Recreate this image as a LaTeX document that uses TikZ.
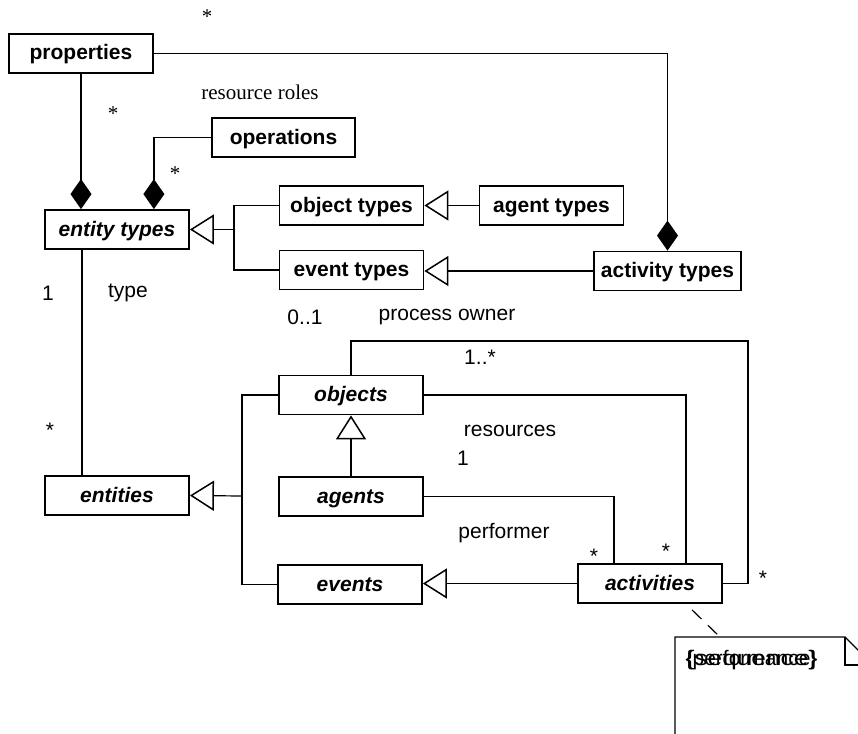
\documentclass[tikz,border=0pt]{standalone}
\usepackage{fontspec}
\setmainfont{Liberation Serif}
\setsansfont{Liberation Sans}
\usetikzlibrary{arrows.meta}
\begin{document}
\begin{tikzpicture}[x=1pt,y=-1pt,line width=1.2pt,
  cls/.style={draw,line width=1.8pt,minimum width=144pt,minimum height=39pt,inner sep=0pt,text height=15pt,text depth=2pt,font=\fontsize{21}{25}\selectfont\sffamily\bfseries},
  abs/.style={cls,font=\fontsize{21}{25}\selectfont\sffamily\bfseries\itshape},
  lbl/.style={inner sep=0pt,font=\fontsize{21}{25}\selectfont\sffamily},
  rlbl/.style={inner sep=0pt,font=\fontsize{21}{25}\selectfont\rmfamily},
  gen/.style={-{Triangle[open,width=30pt,length=24pt,line width=1.5pt]}},
  comp/.style={-{Diamond[width=21pt,length=30pt]}}]
\clip (0,0) rectangle (858,733);
\fill[white] (0,0) rectangle (858,733);
% type level
\node[cls] (prop) at (81,53.5) {properties};
\node[cls,minimum width=143pt] (ops) at (283.5,137.5) {operations};
\node[abs] (et) at (117,229.5) {entity types};
\node[cls] (ot) at (351.5,205.5) {object types};
\node[cls] (evt) at (351.5,270) {event types};
\node[cls] (agt) at (551.5,205.5) {agent types};
\node[cls,minimum width=147pt] (act) at (667.5,271) {activity types};
% instance level
\node[abs] (ent) at (117,495.5) {entities};
\node[abs] (obj) at (351,395) {objects};
\node[abs] (ag) at (351,496.5) {agents};
\node[abs] (ev) at (350,584.5) {events};
\node[abs] (acts) at (650,583.5) {activities};
\coordinate (j1) at (234,229.5);
\coordinate (j2) at (242,496);
\coordinate (po) at (748,341);
\coordinate (nt) at (720,637);
% composition
\draw[comp] (prop.south) -- (prop.south |- et.north);
\draw[comp] (ops.west) -| ([xshift=-36pt]et.north east);
\draw[comp] (prop.east) -| (act.north);
% generalization
\draw (ot.west) -| (j1) |- (evt.west);
\draw[gen] (j1) -- (et.east);
\draw[gen] (agt.west) -- (ot.east);
\draw[gen] (act.west) -- (act.west -| evt.east);
\draw (obj.west) -| (j2) |- (ev.west);
\draw[gen] (j2) -- (ent.east);
\draw[gen] (ag.north) -- (obj.south);
\draw[gen] (acts.west) -- (acts.west -| ev.east);
% associations
\draw ([xshift=-35pt]et.south) -- ([xshift=-35pt]ent.north);
\draw (obj.north) |- (po) |- (acts.east);
\draw (obj.east) -| ([xshift=36pt]acts.north);
\draw (ag.east) -| ([xshift=-36pt]acts.north);
\draw[dash pattern=on 13pt off 9pt] ([xshift=42pt,yshift=-6pt]acts.south) -- (nt);
% note
\draw (675,760) -- (675,637) -- (845,637) -- (873,665) -- (873,760);
\draw (845,637) -- (845,665) -- (873,665);
\node[lbl,anchor=west] (n1) at (685,660) {\{performance\}};
\node[lbl,anchor=west,transform shape,xscale=1.25] (n2) at (685,660) {\{sequence\}};
% labels
\node[rlbl] (s1) at (207,17) {*};
\node[rlbl] (rr) at (260,92) {resource roles};
\node[rlbl] (s2) at (113,114) {*};
\node[rlbl] (s3) at (175,174) {*};
\node[lbl] (m1) at (48,293) {1};
\node[lbl] (ty) at (128,293) {type};
\node[lbl] (s4) at (50,430) {*};
\node[lbl] (m2) at (305,317) {0..1};
\node[lbl] (pown) at (447,317) {process owner};
\node[lbl] (m3) at (480,357) {1..*};
\node[lbl] (res) at (510,431) {resources};
\node[lbl] (m4) at (463,458) {1};
\node[lbl] (perf) at (504,533) {performer};
\node[lbl] (s5) at (594,556) {*};
\node[lbl] (s6) at (666,551) {*};
\node[lbl] (s7) at (763,578) {*};
\end{tikzpicture}
\end{document}
